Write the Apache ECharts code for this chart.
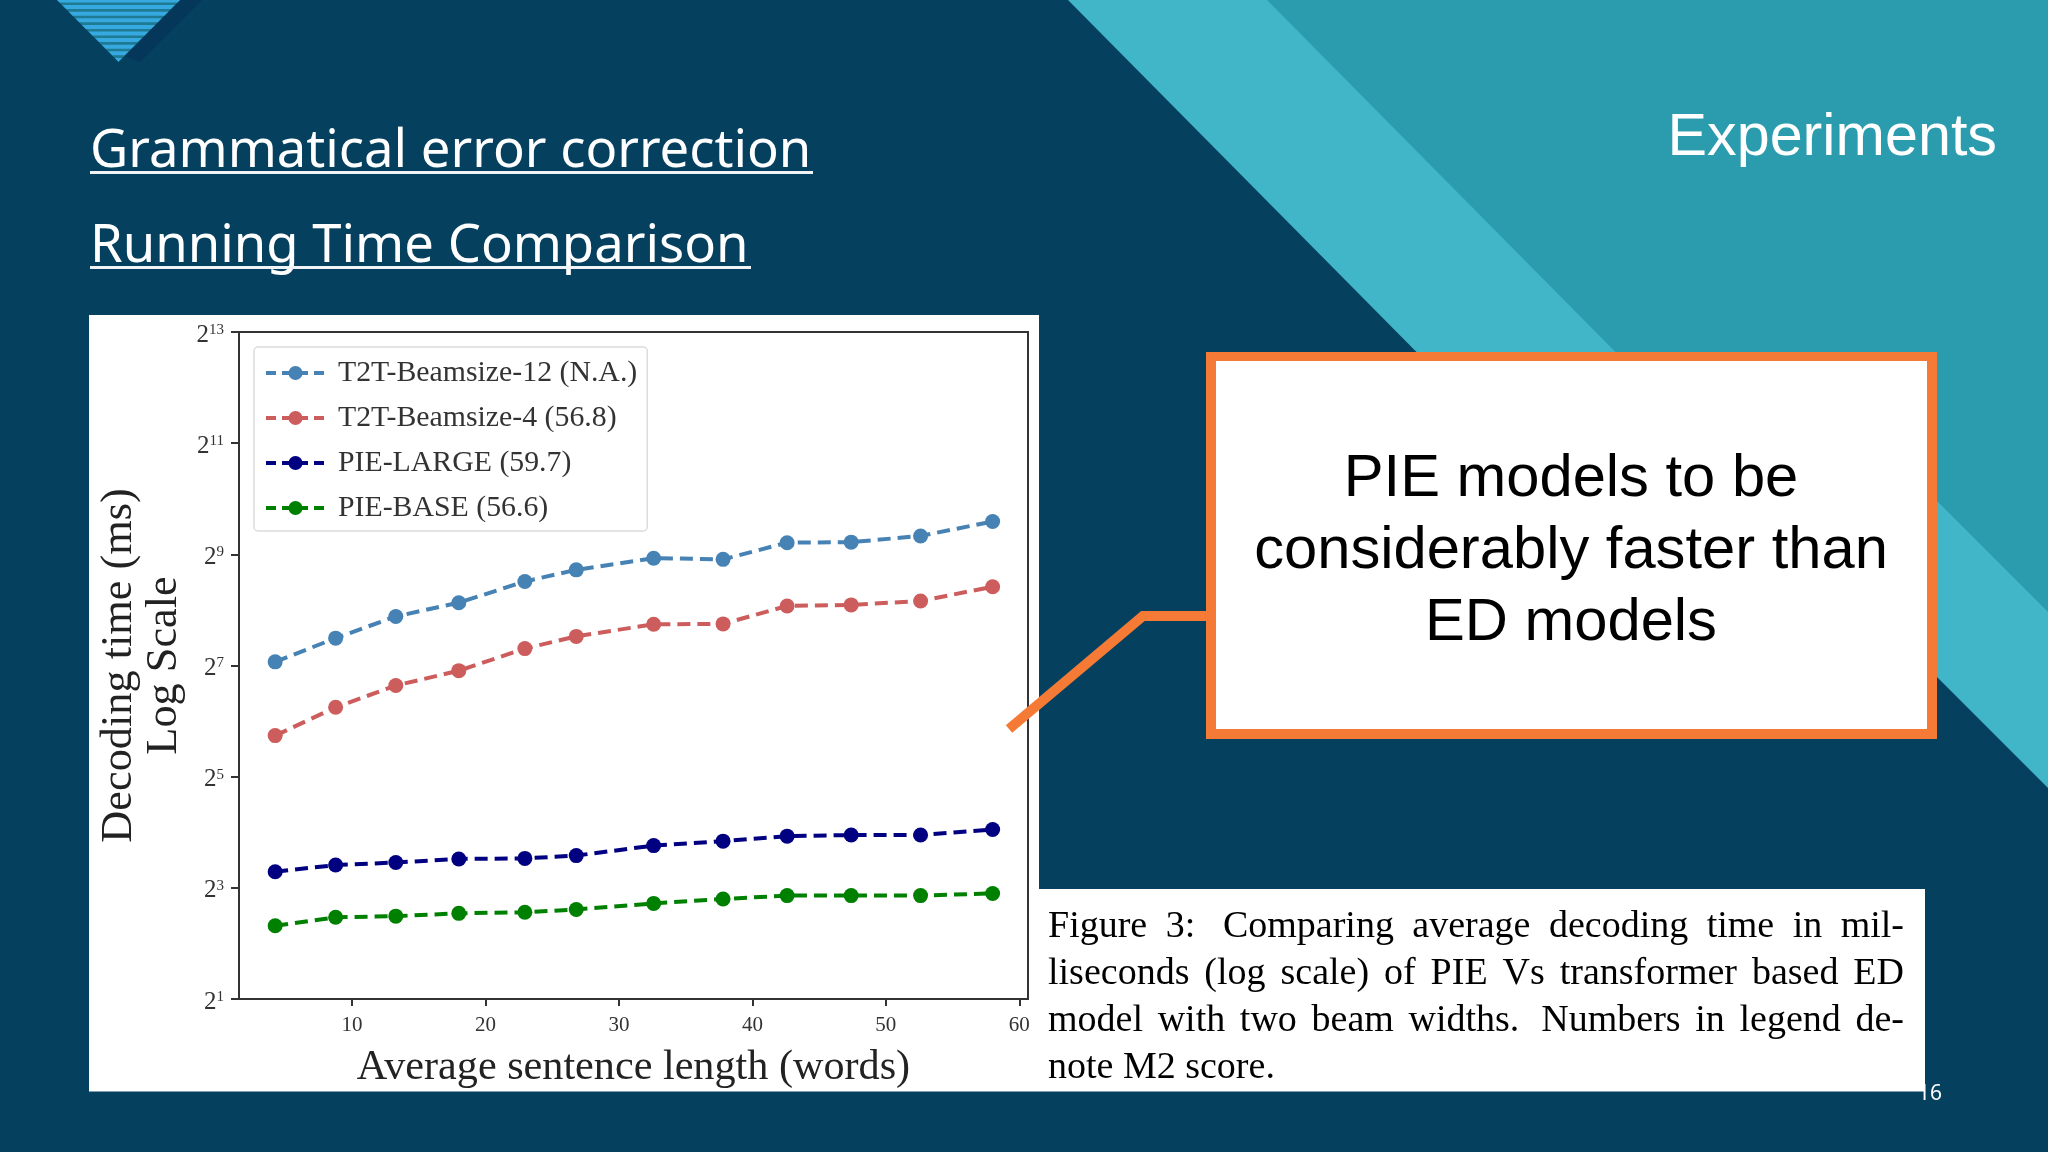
<!DOCTYPE html>
<html>
<head>
<meta charset="utf-8">
<style>html,body{margin:0;padding:0;background:#05405f}#main{width:2048px;height:1152px}</style>
<script src="https://cdn.jsdelivr.net/npm/echarts@6/dist/echarts.min.js"></script>
</head>
<body>
<div id="main"></div>
<script>
// sentence length (x) and decoding time in ms
var lengths = [4.24, 8.77, 13.28, 18.0, 22.95, 26.8, 32.6, 37.8, 42.6, 47.4, 52.6, 58.0];
var t2t12 = [134, 180, 236, 280, 365, 422, 488, 481, 592, 596, 644, 771];
var t2t4 = [53.4, 76, 99.7, 120, 158, 184, 214, 215, 269, 272.5, 286, 342];
var pieLarge = [9.78, 10.63, 10.97, 11.47, 11.55, 11.96, 13.55, 14.32, 15.24, 15.45, 15.45, 16.56];
var pieBase = [4.99, 5.54, 5.62, 5.82, 5.90, 6.11, 6.59, 6.96, 7.26, 7.26, 7.26, 7.46];
var xTicks = [10, 20, 30, 40, 50, 60];
var yTicks = [2, 8, 32, 128, 512, 2048, 8192];
var seriesNames = ['T2T-Beamsize-12 (N.A.)', 'T2T-Beamsize-4 (56.8)', 'PIE-LARGE (59.7)', 'PIE-BASE (56.6)'];
var seriesColors = ['#4682b4', '#cd5c5c', '#000080', '#008000'];
var captionLines = [
    'Figure 3:  Comparing average decoding time in mil-',
    'liseconds (log scale) of PIE Vs transformer based ED',
    'model with two beam widths.  Numbers in legend de-',
    'note M2 score.'
];
var calloutLines = ['PIE models to be', 'considerably faster than', 'ED models'];

var serif = '"Liberation Serif"';
var sans = '"Liberation Sans"';

function pairs(ys) {
    return ys.map(function (y, i) { return [lengths[i], y]; });
}

function makeLine(i, ys) {
    return {
        name: seriesNames[i],
        type: 'line',
        data: pairs(ys),
        symbol: 'circle',
        symbolSize: 15,
        itemStyle: { color: seriesColors[i] },
        lineStyle: { color: seriesColors[i], width: 4, type: [13, 7] }
    };
}

var graphics = [];

function poly(points, fill, z) {
    graphics.push({ type: 'polygon', z: z, silent: true, shape: { points: points }, style: { fill: fill } });
}
function box(x, y, w, h, fill, z) {
    graphics.push({ type: 'rect', z: z, silent: true, shape: { x: x, y: y, width: w, height: h }, style: { fill: fill } });
}
function label(text, x, y, size, family, fill, align, z) {
    graphics.push({
        type: 'text', z: z, silent: true,
        style: { text: text, x: x, y: y, fontSize: size, fontFamily: family, fill: fill, textAlign: align, textVerticalAlign: 'middle' }
    });
}

// slide background
poly([[1267, 0], [2048, 0], [2048, 612], [1700, 612], [1267, 180]], '#2a9cae', -30);
poly([[1068, 0], [1267, 0], [1663, 400], [1464, 400]], '#41b6c8', -29);
poly([[1880, 444], [2048, 612], [2048, 788], [1880, 620]], '#41b6c8', -29);

// corner logo
poly([[180, 0], [202, 0], [140, 62], [124, 56]], '#04375a', -28);
poly([[57, 0], [180, 0], [118.5, 62]], '#1f7a93', -27);
for (var s = 0; s < 10; s++) {
    var y0 = Math.max(s * 6.6 - 1.5, 0);
    var y1 = s * 6.6 + 2.5;
    poly([[57 + y0, y0], [180 - y0, y0], [180 - y1, y1], [57 + y1, y1]], '#36a9e0', -26);
}

// page headings
label('Grammatical error correction', 90, 152, 52.6, '"Noto Sans"', '#fff', 'left', -20);
box(90, 171, 723, 3, '#f0f4f6', -20);
label('Running Time Comparison', 90, 247, 52.6, '"Noto Sans"', '#fff', 'left', -20);
box(90, 266, 661, 3, '#f0f4f6', -20);
label('Experiments', 1997, 139, 59.3, sans, '#fff', 'right', -20);

// white panels behind the plot and the caption
box(89, 315, 950, 776.5, '#fff', -20);
box(1039, 889, 886, 202.5, '#fff', -20);

// caption, justified by hand; a double space counts as one and a half gaps
var measure = document.createElement('canvas').getContext('2d');
var captionSize = 38;
measure.font = captionSize + 'px ' + serif;
captionLines.forEach(function (line, n) {
    var words = line.split(' ');
    var used = 0;
    var weight = words.length - 1;
    words.forEach(function (w) {
        used += measure.measureText(w).width;
        if (!w) {
            weight -= 0.5;
        }
    });
    var gap = n < 3 ? (856 - used) / weight : captionSize * 0.25;
    var x = 1048;
    words.forEach(function (w) {
        if (w) {
            label(w, x, 927 + n * 47, captionSize, serif, '#000', 'left', -19);
            x += measure.measureText(w).width + gap;
        } else {
            x += gap * 0.5;
        }
    });
});
label('16', 1930, 1094, 21, '"Noto Sans"', '#fff', 'center', 5);

// callout
box(1206, 352, 731, 387, '#f57a35', 10);
box(1216, 361, 711, 368, '#fff', 11);
graphics.push({
    type: 'polyline', z: 10, silent: true,
    shape: { points: [[1206, 616], [1143, 616], [1009, 729]] },
    style: { stroke: '#f57a35', lineWidth: 10, fill: 'none' }
});
calloutLines.forEach(function (line, n) {
    label(line, 1571, 480 + n * 72, 59.7, sans, '#000', 'center', 12);
});

var myChart = echarts.init(document.getElementById('main'));

option = {
    animation: false,
    backgroundColor: '#05405f',
    graphic: graphics,
    grid: {
        left: 239, top: 332, width: 789, height: 667,
        show: true, borderColor: '#333', borderWidth: 2, backgroundColor: 'transparent'
    },
    legend: {
        orient: 'vertical',
        left: 254,
        top: 347,
        padding: [11, 10, 8, 10],
        itemGap: 15,
        itemWidth: 59,
        itemHeight: 17.5,
        backgroundColor: '#fff',
        borderColor: '#dcdcdc',
        borderWidth: 1.5,
        borderRadius: 4,
        lineStyle: { width: 4, type: [10, 6] },
        textStyle: { fontFamily: serif, fontSize: 29.8, color: '#333', padding: [0, 0, 0, 8] },
        data: seriesNames
    },
    xAxis: {
        type: 'value',
        min: 1.53,
        max: 60.65,
        name: 'Average sentence length (words)',
        nameLocation: 'middle',
        nameGap: 48,
        nameTextStyle: { fontFamily: serif, fontSize: 42.2, color: '#222' },
        splitLine: { show: false },
        axisLine: { lineStyle: { color: '#333', width: 2 } },
        axisTick: { customValues: xTicks, length: 7, lineStyle: { color: '#333', width: 2 } },
        axisLabel: { customValues: xTicks, fontFamily: serif, fontSize: 21, color: '#333', margin: 16 }
    },
    yAxis: {
        type: 'log',
        logBase: 2,
        min: 2,
        max: 8192,
        name: 'Decoding time (ms)\nLog Scale',
        nameLocation: 'middle',
        nameGap: 52,
        nameTextStyle: { fontFamily: serif, fontSize: 44.3, lineHeight: 45, color: '#222' },
        splitLine: { show: false },
        minorTick: { show: false },
        axisLine: { lineStyle: { color: '#333', width: 2 } },
        axisTick: { customValues: yTicks, length: 8, lineStyle: { color: '#333', width: 2 } },
        axisLabel: {
            customValues: yTicks,
            margin: 15,
            padding: [6, 0, 0, 0],
            fontFamily: serif,
            fontSize: 25,
            color: '#333',
            formatter: function (v) {
                return '2{sup|' + Math.round(Math.log2(v)) + '}';
            },
            rich: {
                sup: { fontFamily: serif, fontSize: 15, color: '#333', verticalAlign: 'top', padding: [0, 0, 8, 0] }
            }
        }
    },
    series: [
        makeLine(0, t2t12),
        makeLine(1, t2t4),
        makeLine(2, pieLarge),
        makeLine(3, pieBase)
    ]
};

myChart.setOption(option);
</script>
</body>
</html>
